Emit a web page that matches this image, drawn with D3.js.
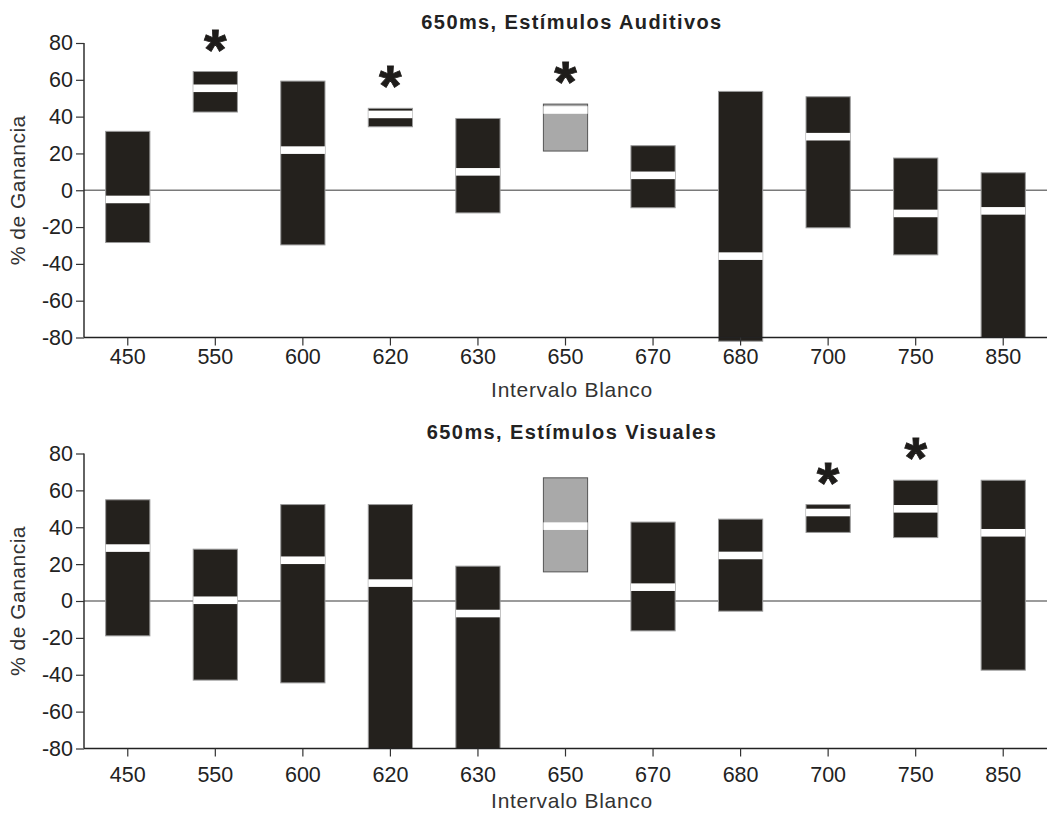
<!DOCTYPE html>
<html>
<head>
<meta charset="utf-8">
<script src="https://cdn.jsdelivr.net/npm/d3@7"></script>
<style>
  body { margin: 0; background: #fff; }
  svg { display: block; font-family: Arial, "Liberation Sans", sans-serif; }
</style>
</head>
<body>
<svg id="chart" width="1049" height="813"></svg>
<script>
// Intervalos (ms) on the x axis
const categories = ["450", "550", "600", "620", "630", "650", "670", "680", "700", "750", "850"];
const yTicks = [80, 60, 40, 20, 0, -20, -40, -60, -80];

// Auditivos: range (high/low) and median of % gain per interval
const audHigh   = [32, 64.5, 59.3, 44.5, 39, 46.8, 24.2, 53.7, 50.8, 17.5, 9.5];
const audLow    = [-28.4, 42.5, -29.7, 34.5, -12.3, 21.3, -9.5, -82, -20.4, -35.1, -80];
const audMedian = [-5, 55.4, 21.8, 41.2, 10, 43.6, 8.1, -35.8, 29.1, -12.6, -11.2];
const audSig    = ["550", "620", "650"];

// Visuales
const visHigh   = [54.9, 28.1, 52.3, 52.3, 18.9, 66.8, 42.8, 44.4, 52.3, 65.5, 65.5];
const visLow    = [-18.9, -42.9, -44.4, -80, -80, 15.8, -16.2, -5.5, 37.2, 34.4, -37.5];
const visMedian = [28.7, 0.4, 22.1, 9.7, -6.8, 40.6, 7.5, 24.7, 48, 50, 37];
const visSig    = ["700", "750"];

// the reference interval drawn in grey
const refInterval = "650";

const svg = d3.select("#chart");
const xRange = [84, 1047];
const FONT = "Arial, 'Liberation Sans', sans-serif";

function panel(opts) {
  const { top, bottom, title, titleY, labelPad, xTitleY, high, low, median, sig } = opts;
  const g = svg.append("g");
  const x = d3.scaleBand().domain(categories).range(xRange).paddingInner(0.495).paddingOuter(0.2475);
  const y = d3.scaleLinear().domain([-80, 80]).range([bottom, top]);

  const rows = categories.map((c, i) => ({ c, hi: high[i], lo: low[i], med: median[i] }));

  // zero reference line
  g.append("line")
    .attr("x1", xRange[0]).attr("x2", xRange[1])
    .attr("y1", y(0)).attr("y2", y(0))
    .attr("stroke", "#7a7a7a").attr("stroke-width", 1.6);

  // range bars
  g.selectAll("rect.bar").data(rows).join("rect")
    .attr("class", "bar")
    .attr("x", d => x(d.c))
    .attr("width", x.bandwidth())
    .attr("y", d => y(d.hi))
    .attr("height", d => y(d.lo) - y(d.hi))
    .attr("fill", d => d.c === refInterval ? "#a9a9a9" : "#24211d")
    .attr("stroke", d => d.c === refInterval ? "#555" : "#9a9a9a")
    .attr("stroke-width", 1);

  // median marks
  g.selectAll("rect.med").data(rows).join("rect")
    .attr("class", "med")
    .attr("x", d => x(d.c))
    .attr("width", x.bandwidth())
    .attr("y", d => y(d.med) - 3.8)
    .attr("height", 7.6)
    .attr("fill", "#fff");

  // significance markers
  g.selectAll("text.sig").data(rows.filter(d => sig.includes(d.c))).join("text")
    .attr("class", "sig")
    .attr("x", d => x(d.c) + x.bandwidth() / 2)
    .attr("y", d => y(d.hi) - 2)
    .attr("text-anchor", "middle")
    .attr("font-size", 58)
    .attr("font-weight", "bold")
    .attr("fill", "#1e1c1a")
    .attr("stroke", "#1e1c1a").attr("stroke-width", 0.8)
    .text("*");

  // y axis
  const ya = g.append("g").attr("transform", `translate(${xRange[0]},0)`)
    .call(d3.axisLeft(y).tickValues(yTicks).tickSize(8).tickPadding(3).tickFormat(d => String(d)));
  ya.select(".domain").attr("stroke", "#222").attr("stroke-width", 1.4).attr("d", `M0,${top}V${bottom}`);
  ya.selectAll(".tick line").attr("stroke", "#333").attr("stroke-width", 1.2);
  ya.selectAll(".tick text").attr("font-size", 21.5).attr("fill", "#222").attr("font-family", FONT);

  // x axis
  const xa = g.append("g").attr("transform", `translate(0,${bottom})`)
    .call(d3.axisBottom(x).tickSize(8).tickPadding(labelPad));
  xa.select(".domain").attr("stroke", "#222").attr("stroke-width", 1.4).attr("d", `M${xRange[0]},0H${xRange[1]}`);
  xa.selectAll(".tick line").attr("stroke", "#333").attr("stroke-width", 1.2);
  xa.selectAll(".tick text").attr("font-size", 21.5).attr("fill", "#222").attr("font-family", FONT);

  // titles
  const cx = 572;
  g.append("text").attr("x", cx).attr("y", titleY)
    .attr("text-anchor", "middle").attr("font-size", 20).attr("font-weight", "bold")
    .attr("letter-spacing", 1.4).attr("fill", "#222")
    .text(title);
  g.append("text").attr("x", cx).attr("y", xTitleY)
    .attr("text-anchor", "middle").attr("font-size", 21).attr("letter-spacing", 0.7).attr("fill", "#333")
    .text("Intervalo Blanco");
  g.append("text")
    .attr("transform", `translate(25,${(top + bottom) / 2}) rotate(-90)`)
    .attr("text-anchor", "middle").attr("font-size", 21).attr("letter-spacing", 0.5).attr("fill", "#333")
    .text("% de Ganancia");
}

panel({ top: 43, bottom: 337.5, title: "650ms, Estímulos Auditivos", titleY: 29, labelPad: 3, xTitleY: 397,
        high: audHigh, low: audLow, median: audMedian, sig: audSig });
panel({ top: 453.5, bottom: 748.5, title: "650ms, Estímulos Visuales", titleY: 439, labelPad: 10, xTitleY: 808,
        high: visHigh, low: visLow, median: visMedian, sig: visSig });
</script>
</body>
</html>
